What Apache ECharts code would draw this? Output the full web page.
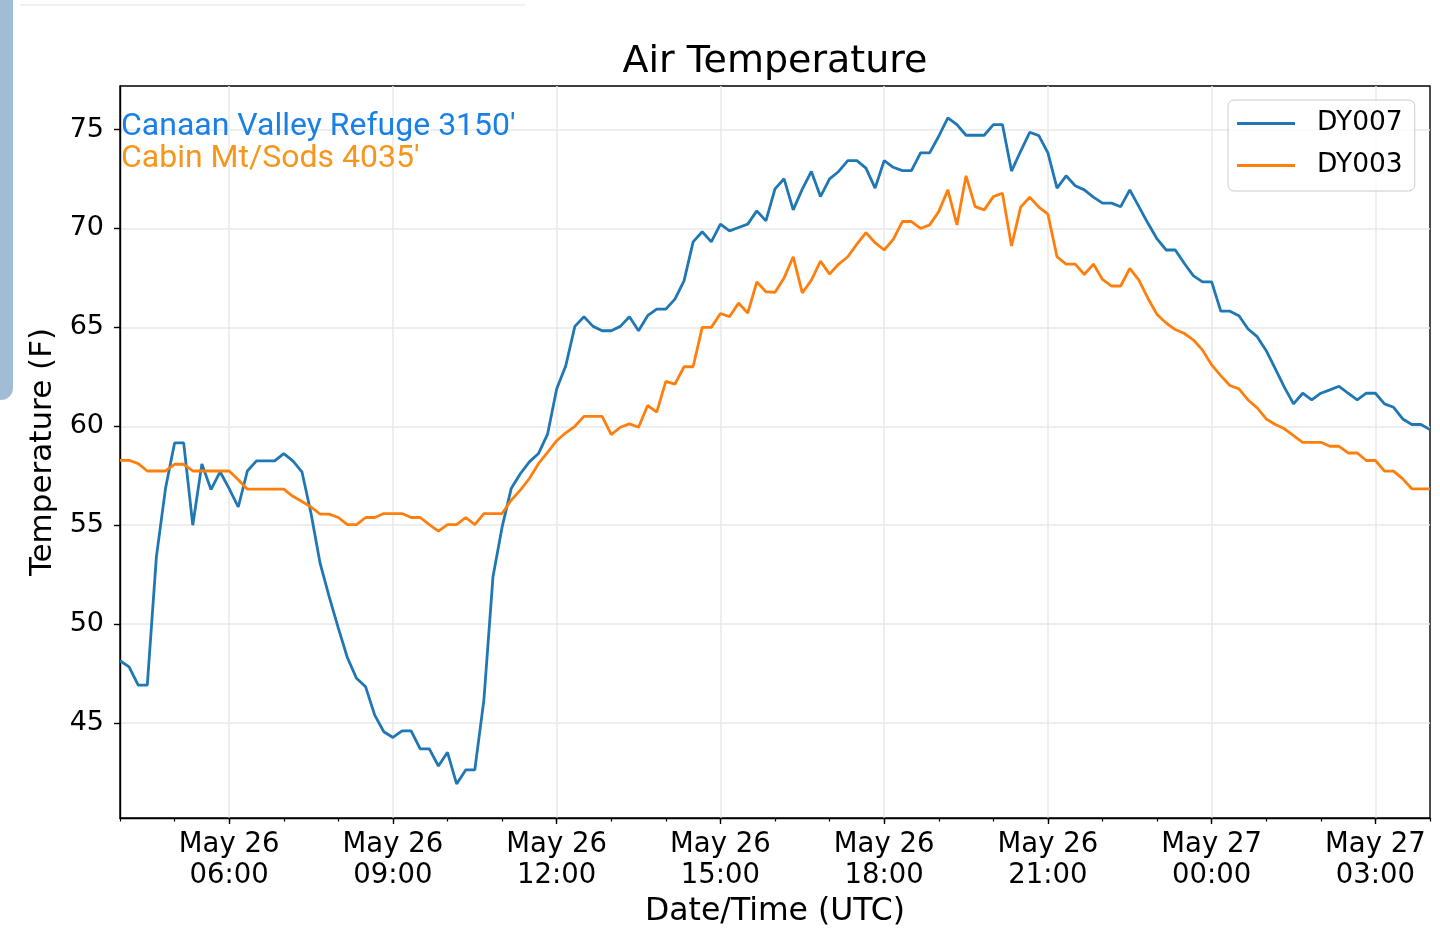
<!DOCTYPE html>
<html>
<head>
<meta charset="utf-8">
<script src="https://cdn.jsdelivr.net/npm/echarts@6/dist/echarts.min.js"></script>
<style>
html,body{margin:0;padding:0;background:#fff;}
#chart{width:1440px;height:949px;}
</style>
</head>
<body>
<div id="chart"></div>
<script>
// Sampling: every 10 minutes from May 26 04:00 UTC to May 27 04:00 UTC
const startDay = 26;
const startMinute = 4 * 60;
const stepMinutes = 10;

// DY007 (Canaan Valley Refuge 3150')
const dy007 = [
  48.15, 47.84, 46.92, 46.92, 53.4, 56.85, 59.16, 59.16, 55.0, 58.1,
  56.8, 57.7, 56.85, 55.92, 57.74, 58.25, 58.25, 58.25, 58.62, 58.25,
  57.7, 55.59, 53.07, 51.38, 49.8, 48.3, 47.26, 46.83, 45.4, 44.56,
  44.27, 44.6, 44.6, 43.69, 43.69, 42.83, 43.52, 41.92, 42.63, 42.63,
  46.16, 52.4, 54.9, 56.85, 57.6, 58.2, 58.62, 59.6, 61.88, 63.06,
  65.05, 65.54, 65.05, 64.83, 64.83, 65.05, 65.54, 64.83, 65.59, 65.92,
  65.92, 66.43, 67.35, 69.32, 69.83, 69.32, 70.22, 69.88, 70.05, 70.22,
  70.89, 70.38, 72.0, 72.51, 70.94, 71.99, 72.88, 71.61, 72.51, 72.88,
  73.43, 73.43, 73.05, 72.04, 73.43, 73.09, 72.92, 72.92, 73.82, 73.82,
  74.66, 75.59, 75.25, 74.71, 74.71, 74.71, 75.25, 75.25, 72.9, 73.9,
  74.86, 74.69, 73.82, 72.04, 72.66, 72.16, 71.95, 71.58, 71.28, 71.28,
  71.1, 71.95, 71.1, 70.26, 69.47, 68.91, 68.91, 68.23, 67.6, 67.3,
  67.3, 65.82, 65.82, 65.59, 64.92, 64.53, 63.82, 62.9, 61.97, 61.13,
  61.67, 61.33, 61.67, 61.84, 62.02, 61.67, 61.33, 61.67, 61.67, 61.13,
  60.96, 60.37, 60.09, 60.09, 59.83
];

// DY003 (Cabin Mt/Sods 4035')
const dy003 = [
  58.28, 58.28, 58.11, 57.74, 57.74, 57.74, 58.08, 58.08, 57.74, 57.74,
  57.74, 57.74, 57.74, 57.3, 56.82, 56.82, 56.82, 56.82, 56.82, 56.46,
  56.2, 55.92, 55.56, 55.56, 55.39, 55.03, 55.03, 55.39, 55.39, 55.59,
  55.59, 55.59, 55.39, 55.39, 55.03, 54.7, 55.03, 55.03, 55.39, 55.03,
  55.59, 55.59, 55.59, 56.26, 56.77, 57.36, 58.11, 58.68, 59.27, 59.67,
  60.0, 60.5, 60.5, 60.5, 59.58, 59.95, 60.12, 59.95, 61.05, 60.72,
  62.27, 62.13, 63.01, 63.01, 65.0, 65.0, 65.7, 65.54, 66.23, 65.72,
  67.3, 66.8, 66.77, 67.5, 68.57, 66.74, 67.39, 68.35, 67.69, 68.2,
  68.57, 69.21, 69.79, 69.28, 68.91, 69.45, 70.35, 70.35, 70.0, 70.18,
  70.85, 71.95, 70.18, 72.66, 71.1, 70.94, 71.61, 71.78, 69.11, 71.08,
  71.58, 71.08, 70.72, 68.57, 68.2, 68.2, 67.67, 68.2, 67.42, 67.09,
  67.09, 67.98, 67.39, 66.46, 65.65, 65.22, 64.89, 64.69, 64.36, 63.85,
  63.1, 62.56, 62.06, 61.89, 61.33, 60.93, 60.37, 60.09, 59.87, 59.53,
  59.19, 59.19, 59.19, 58.99, 58.99, 58.65, 58.65, 58.27, 58.27, 57.73,
  57.73, 57.34, 56.84, 56.84, 56.84
];

const yTicks = [45, 50, 55, 60, 65, 70, 75];
const seriesNames = ['DY007', 'DY003'];
const seriesColors = ['#1f77b4', '#ff7f0e'];
const annotations = ["Canaan Valley Refuge 3150'", "Cabin Mt/Sods 4035'"];

// category labels (timestamps) "May DD HH:MM"
const times = dy007.map(function (_, i) {
  const t = startMinute + i * stepMinutes;
  const d = startDay + Math.floor(t / 1440);
  const h = Math.floor((t % 1440) / 60);
  const m = t % 60;
  return 'May ' + d + ' ' + String(h).padStart(2, '0') + ':' + String(m).padStart(2, '0');
});

function isHour(idx, val) { return val.slice(-2) === '00'; }
function isMajor(idx, val) { return val.slice(-2) === '00' && parseInt(val.slice(7, 9), 10) % 3 === 0; }

const FONT = 'DejaVu Sans';
const LINE_ICON = 'path://M0,0H58V2.8H0Z';
const chart = echarts.init(document.getElementById('chart'));
chart.setOption({
  animation: false,
  backgroundColor: '#ffffff',
  grid: {
    left: 120, top: 86, right: 10, bottom: 131,
    show: true, borderColor: '#000', borderWidth: 1.4,
    containLabel: false, outerBoundsMode: 'none'
  },
  legend: {
    orient: 'vertical', left: 1228, top: 100,
    padding: [10, 12, 12, 9],
    itemWidth: 58, itemHeight: 30, itemGap: 15,
    borderColor: '#cccccc', borderWidth: 1, borderRadius: 6,
    backgroundColor: 'rgba(255,255,255,0.8)',
    textStyle: { fontSize: 26.5, fontFamily: FONT, color: '#000', padding: [0, 0, 0, 17] },
    data: [
      { name: seriesNames[0], icon: LINE_ICON, itemStyle: { color: seriesColors[0] } },
      { name: seriesNames[1], icon: LINE_ICON, itemStyle: { color: seriesColors[1] } }
    ]
  },
  xAxis: [
    {
      type: 'category', data: times, boundaryGap: false, position: 'bottom',
      axisLine: { show: true, lineStyle: { color: '#000', width: 1.4 } },
      axisTick: { show: true, length: 6, interval: isMajor, lineStyle: { color: '#000', width: 1.4 } },
      axisLabel: {
        interval: isMajor, color: '#000', fontSize: 27.5, fontFamily: FONT,
        lineHeight: 31, margin: 11,
        formatter: function (v) { return v.slice(0, 6) + '\n' + v.slice(7); }
      },
      splitLine: { show: true, interval: isMajor, lineStyle: { color: '#e8e8e8', width: 1.5 } },
      name: 'Date/Time (UTC)', nameLocation: 'middle', nameGap: 77,
      nameTextStyle: { fontSize: 31.5, fontFamily: FONT, color: '#000' }
    },
    {
      type: 'category', data: times, boundaryGap: false, position: 'bottom',
      axisLine: { show: false },
      axisTick: { show: true, length: 3.5, interval: isHour, lineStyle: { color: '#000', width: 1.2 } },
      axisLabel: { show: false },
      splitLine: { show: false }
    }
  ],
  yAxis: {
    type: 'value', min: 40.2, max: 77.2, splitNumber: 7,
    axisLine: { show: true, lineStyle: { color: '#000', width: 1.4 } },
    axisTick: { show: true, length: 6, customValues: yTicks, lineStyle: { color: '#000', width: 1.4 } },
    axisLabel: { customValues: yTicks, color: '#000', fontSize: 27, fontFamily: FONT, margin: 16, padding: [10, 0, 0, 0] },
    splitLine: { show: true, lineStyle: { color: '#e8e8e8', width: 1.5 } },
    name: 'Temperature (F)', nameLocation: 'middle', nameGap: 55,
    nameTextStyle: { fontSize: 31, fontFamily: FONT, color: '#000' }
  },
  series: [
    { name: seriesNames[0], type: 'line', data: dy007, symbol: 'none', xAxisIndex: 0,
      lineStyle: { color: seriesColors[0], width: 2.8 }, itemStyle: { color: seriesColors[0] } },
    { name: seriesNames[1], type: 'line', data: dy003, symbol: 'none', xAxisIndex: 0,
      lineStyle: { color: seriesColors[1], width: 2.8 }, itemStyle: { color: seriesColors[1] } }
  ],
  graphic: [
    { type: 'rect', left: 0, top: 0, shape: { x: 0, y: 0, width: 13, height: 400, r: [0, 0, 12, 0] },
      style: { fill: '#a3bcd6' }, silent: true },
    { type: 'line', shape: { x1: 20, y1: 5, x2: 525, y2: 5 }, style: { stroke: '#ececec', lineWidth: 1.5 }, silent: true },
    { type: 'text', x: 775, y: 62, style: { text: 'Air Temperature', fontSize: 38, fontFamily: FONT, fill: '#000', align: 'center', verticalAlign: 'middle' } },
    { type: 'text', x: 121, y: 127, z: 10, style: { text: annotations[0], fontSize: 32, fontFamily: 'Roboto', fill: '#1a7fe6', align: 'left', verticalAlign: 'middle' } },
    { type: 'text', x: 121, y: 159, z: 10, style: { text: annotations[1], fontSize: 32, fontFamily: 'Roboto', fill: '#f7961d', align: 'left', verticalAlign: 'middle' } }
  ]
});
</script>
</body>
</html>
